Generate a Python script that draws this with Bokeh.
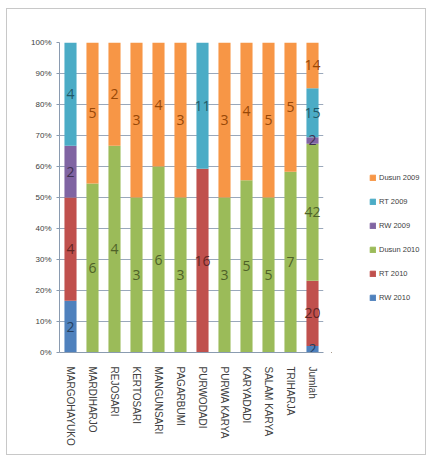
from bokeh.plotting import figure
from bokeh.layouts import row
from bokeh.models import ColumnDataSource, Legend, LegendItem, NumeralTickFormatter, FactorRange, FixedTicker
from bokeh.core.properties import value
from bokeh.embed import file_html
from bokeh.resources import INLINE

categories = ["MARGOHAYUKO", "MARDIHARJO", "REJOSARI", "KERTOSARI", "MANGUNSARI",
              "PAGARBUMI", "PURWODADI", "PURWA KARYA", "KARYADADI", "SALAM KARYA",
              "TRIHARJA", "Jumlah"]
rw_2010 = [2, 0, 0, 0, 0, 0, 0, 0, 0, 0, 0, 2]
rt_2010 = [4, 0, 0, 0, 0, 0, 16, 0, 0, 0, 0, 20]
dusun_2010 = [0, 6, 4, 3, 6, 3, 0, 3, 5, 5, 7, 42]
rw_2009 = [2, 0, 0, 0, 0, 0, 0, 0, 0, 0, 0, 2]
rt_2009 = [4, 0, 0, 0, 0, 0, 11, 0, 0, 0, 0, 15]
dusun_2009 = [0, 5, 2, 3, 4, 3, 0, 3, 4, 5, 5, 14]
y_ticks = [0, 0.1, 0.2, 0.3, 0.4, 0.5, 0.6, 0.7, 0.8, 0.9, 1.0]

series_names = ["RW 2010", "RT 2010", "Dusun 2010", "RW 2009", "RT 2009", "Dusun 2009"]
series_vals = [rw_2010, rt_2010, dusun_2010, rw_2009, rt_2009, dusun_2009]
colors = ["#4F81BD", "#C0504D", "#9BBB59", "#8064A2", "#4BACC6", "#F79646"]
label_colors = ["#254061", "#632523", "#4F6228", "#3F3151", "#215968", "#984807"]
keys = ["s%d" % i for i in range(6)]

totals = [sum(v[i] for v in series_vals) for i in range(len(categories))]
data = {"cat": categories}
for k, vals in zip(keys, series_vals):
    data[k] = [v / t for v, t in zip(vals, totals)]
source = ColumnDataSource(data)

p = figure(x_range=FactorRange(*categories, range_padding=0), y_range=(0, 1),
           width=324, height=445, output_backend="svg", toolbar_location=None,
           min_border_left=52, min_border_right=8, min_border_top=33, min_border_bottom=102)

renderers = p.vbar_stack(keys, x="cat", width=0.55, color=colors, source=source,
                         line_color=None)

# data labels at segment centres
lx, ly, lt, lc = [], [], [], []
for i, c in enumerate(categories):
    cum = 0.0
    for s, vals in enumerate(series_vals):
        frac = vals[i] / totals[i]
        if vals[i] > 0:
            lx.append(c)
            ly.append(cum + frac / 2)
            lt.append(str(vals[i]))
            lc.append(label_colors[s])
        cum += frac
lsrc = ColumnDataSource(dict(x=lx, y=ly, t=lt, c=lc))
p.text(x="x", y="y", text="t", text_color="c", source=lsrc, text_align="center",
       text_baseline="middle", text_font=value("Open Sans"), text_font_size="14px")

p.yaxis.ticker = FixedTicker(ticks=y_ticks)
p.yaxis.formatter = NumeralTickFormatter(format="0%")
p.yaxis.major_label_text_font_size = "8px"
p.yaxis.major_label_text_font = "Liberation Sans"
p.yaxis.major_label_text_color = "#404040"
p.yaxis.axis_line_color = "#8a9bb0"
p.yaxis.major_tick_line_color = "#8a9bb0"
p.yaxis.major_tick_out = 3
p.yaxis.major_tick_in = 0
p.yaxis.minor_tick_line_color = None

p.xaxis.major_label_orientation = "vertical"
p.xaxis.major_label_text_font_size = "10px"
p.xaxis.major_label_text_font = "Liberation Sans"
p.xaxis.major_label_text_color = "#404040"
p.xaxis.axis_line_color = "#8a9bb0"
p.xaxis.major_tick_line_color = None
p.xaxis.major_label_standoff = 8

p.xgrid.grid_line_color = None
p.ygrid.grid_line_color = "#9aa8bb"
p.ygrid.ticker = FixedTicker(ticks=y_ticks)
p.outline_line_color = None

# legend panel (separate figure holding off-screen proxy glyphs for the legend)
lg = figure(width=94, height=445, output_backend="svg", toolbar_location=None,
            x_range=(0, 1), y_range=(0, 1),
            min_border_left=0, min_border_right=0, min_border_top=0, min_border_bottom=0)
lg.axis.visible = False
lg.grid.grid_line_color = None
lg.outline_line_color = None
proxy_src = ColumnDataSource(dict(x=[-10], top=[-10]))
proxies = [lg.vbar(x="x", top="top", width=0.5, color=c, source=proxy_src) for c in colors]

legend_order = [5, 4, 3, 2, 1, 0]
legend = Legend(items=[LegendItem(label=series_names[i], renderers=[proxies[i]]) for i in legend_order],
                location=(38, 50), orientation="vertical",
                glyph_width=7, glyph_height=7, label_height=10, spacing=14,
                label_text_font_size="7.5px", label_text_font="Liberation Sans",
                label_text_color="#404040", padding=0, margin=0,
                border_line_color=None, background_fill_alpha=0, label_standoff=3)
lg.add_layout(legend)

layout = row(p, lg, styles={"border": "1px solid #c8c8c8", "margin-left": "6px", "margin-top": "8px"})

open("out.html", "w").write(file_html(layout, INLINE))
